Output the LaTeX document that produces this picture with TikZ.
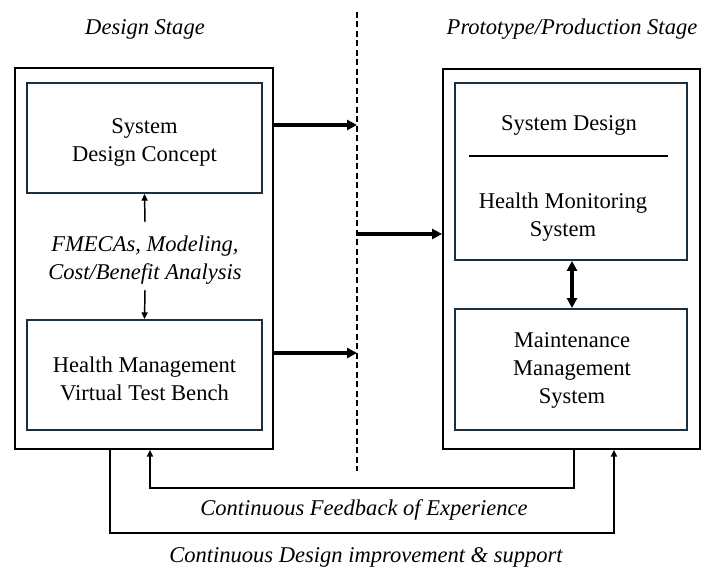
\documentclass[tikz,border=0pt]{standalone}
\usepackage{fontspec}
\setmainfont{Liberation Serif}
\usetikzlibrary{arrows.meta,fit}
\definecolor{innerc}{RGB}{26,48,64}
\tikzset{
  txt/.style={font=\fontsize{16.9}{21}\selectfont, inner sep=0pt, align=center, yshift=-3pt},
  itxt/.style={txt, font=\fontsize{16.9}{21}\selectfont\itshape},
  outerbox/.style={draw=black, line width=1.4pt, inner sep=0pt},
  innerbox/.style={draw=innerc, line width=1.4pt, inner sep=0pt},
  bigarrow/.style={line width=2.8pt, -{Triangle[length=7.5pt,width=7.5pt]}},
  dbigarrow/.style={line width=2.8pt, {Triangle[length=7.5pt,width=7.5pt]}-{Triangle[length=7.5pt,width=7.5pt]}},
  thinarrow/.style={line width=1.1pt, -{Triangle[length=5pt,width=4.5pt]}},
  loopline/.style={line width=1.4pt, -{Triangle[length=5pt,width=4.5pt]}},
  divider/.style={line width=1.1pt, dash pattern=on 4.5pt off 2.6pt}
}
\begin{document}
\begin{tikzpicture}[x=0.75pt,y=-0.75pt]
\useasboundingbox (0,0) rectangle (705,570);

% titles
\node[itxt] (t1) at (145,25) {Design Stage};
\node[itxt] (t2) at (572,25) {Prototype/Production Stage};

% left side
\node[outerbox, fit={(15,68) (273,449)}] (oL) {};
\node[innerbox, fit={(27,83) (262,193)}] (sdc) {};
\node[txt] (sdct) at (sdc.center) {System\\Design Concept};
\node[innerbox, fit={(27,320) (262,430)}] (hmv) {};
\node[txt] (hmvt) at (hmv.center) {Health Management\\Virtual Test Bench};
\node[itxt] (fm) at (145,256) {FMECAs, Modeling,\\Cost/Benefit Analysis};
\coordinate (fmu) at (145,222);
\coordinate (fmd) at (145,290);
\draw[thinarrow] (fmu) -- (sdc.south);
\draw[thinarrow] (fmd) -- (hmv.north);

% right side
\node[outerbox, fit={(443,69) (700,449)}] (oR) {};
\node[innerbox, fit={(455,83) (687,260)}] (sd) {};
\node[txt] (sdt) at (569,121) {System Design};
\coordinate (ha) at (469,156);
\coordinate (hb) at (668,156);
\draw[line width=1.1pt] (ha) -- (hb);
\node[txt] (hms) at (563,213) {Health Monitoring\\System};
\node[innerbox, fit={(455,309) (687,430)}] (mms) {};
\node[txt] (mmst) at (572,366) {Maintenance\\Management\\System};
\draw[dbigarrow] (sd.south -| 572,0) -- (mms.north -| 572,0);

% dashed divider
\coordinate (dtop) at (357,12);
\coordinate (dbot) at (357,471);
\draw[divider] (dtop) -- (dbot);
\coordinate (d1) at (357,125);
\coordinate (d2) at (357,353);
\coordinate (d3) at (357,234);
\draw[bigarrow] (oL.east |- d1) -- (d1);
\draw[bigarrow] (oL.east |- d2) -- (d2);
\draw[bigarrow] (d3) -- (oR.west |- d3);

% feedback loops
\coordinate (fbR) at (574,449);
\coordinate (fbL) at (150,449);
\draw[loopline] (oR.south -| fbR) -- ++(0,38) -| (oL.south -| fbL);
\node[itxt] (fbt) at (364,506) {Continuous Feedback of Experience};
\coordinate (ciL) at (110,449);
\coordinate (ciR) at (614,449);
\draw[loopline] (oL.south -| ciL) -- ++(0,83) -| (oR.south -| ciR);
\node[itxt] (cit) at (366,553) {Continuous Design improvement \& support};
\end{tikzpicture}
\end{document}
